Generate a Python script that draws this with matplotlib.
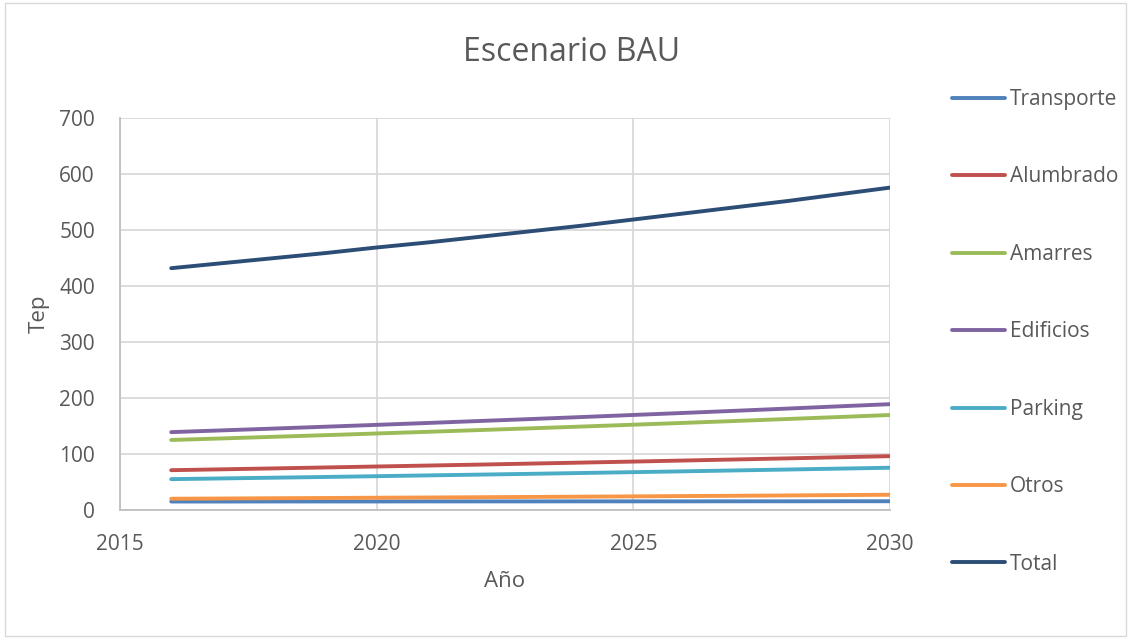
import numpy as np
import matplotlib; matplotlib.use('Agg'); import matplotlib.pyplot as plt
from matplotlib.patches import Rectangle

years = list(range(2016, 2031))
transporte = [15.0, 15.0, 15.1, 15.1, 15.1, 15.2, 15.2, 15.2, 15.3, 15.3, 15.3, 15.4, 15.4, 15.5, 15.5]
alumbrado = [71.0, 72.6, 74.2, 75.9, 77.6, 79.3, 81.0, 82.8, 84.6, 86.4, 88.3, 90.2, 92.1, 94.1, 96.1]
amarres = [125.0, 127.8, 130.7, 133.6, 136.6, 139.6, 142.7, 145.8, 149.0, 152.3, 155.6, 159.0, 162.5, 166.0, 169.6]
edificios = [139.0, 142.2, 145.4, 148.7, 152.0, 155.4, 158.9, 162.4, 166.0, 169.7, 173.4, 177.2, 181.1, 185.1, 189.0]
parking = [55.0, 56.3, 57.6, 58.9, 60.3, 61.7, 63.1, 64.5, 66.0, 67.5, 69.0, 70.6, 72.2, 73.8, 75.4]
otros = [20.0, 20.4, 20.9, 21.3, 21.8, 22.2, 22.7, 23.2, 23.7, 24.2, 24.8, 25.3, 25.9, 26.5, 27.1]
total = [432, 441, 450, 459, 469, 478, 488, 498, 508, 519, 530, 541, 552, 564, 576]

series = [('Transporte', transporte, '#4F81BD'), ('Alumbrado', alumbrado, '#C0504D'),
          ('Amarres', amarres, '#9BBB59'), ('Edificios', edificios, '#8064A2'),
          ('Parking', parking, '#4BACC6'), ('Otros', otros, '#F79646'),
          ('Total', total, '#2C4D75')]

plt.rcParams['font.family'] = ['Open Sans', 'DejaVu Sans']
txt = '#595959'

fig = plt.figure(figsize=(11.31, 6.39), dpi=100)
fig.patches.append(Rectangle((0.004, 0.004), 0.992, 0.992, transform=fig.transFigure,
                             fill=False, ec='#D9D9D9', lw=1))
ax = fig.add_axes([0.106, 0.202, 0.681, 0.613])
for name, vals, c in series:
    ax.plot(years, vals, color=c, lw=2.8, label=name, solid_capstyle='round')

ax.set_xlim(2015, 2030); ax.set_ylim(0, 700)
ax.set_xticks([2015, 2020, 2025, 2030]); ax.set_yticks(range(0, 701, 100))
ax.grid(color='#D9D9D9', lw=1.3)
for s in ('top', 'right'):
    ax.spines[s].set_visible(False)
for s in ('left', 'bottom'):
    ax.spines[s].set_color('#BFBFBF'); ax.spines[s].set_linewidth(1.3)
ax.tick_params(length=0, labelsize=15, colors=txt)
ax.tick_params(axis='x', pad=17)
ax.tick_params(axis='y', pad=18)
ax.set_xlabel('Año', fontsize=16, color=txt, labelpad=12)
ax.set_ylabel('Tep', fontsize=16, color=txt, labelpad=7)
fig.text(0.505, 0.918, 'Escenario BAU', ha='center', va='center', fontsize=23, color=txt)

fig.legend(loc='upper left', bbox_to_anchor=(0.825, 0.89), frameon=False, fontsize=15,
           labelspacing=2.71, handlelength=2.55, handletextpad=0.25, labelcolor=txt)
fig.savefig('out.png', dpi=100)
